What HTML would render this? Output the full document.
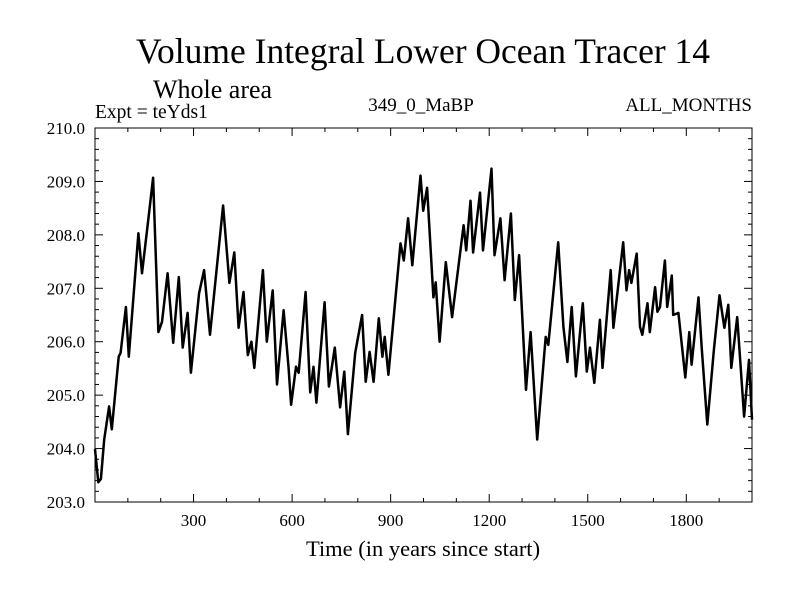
<!DOCTYPE html>
<html><head><meta charset="utf-8"><style>
html,body{margin:0;padding:0;background:#fff;}
svg text{font-family:"Liberation Serif",serif;fill:#000;}
</style></head><body>
<svg id="chart" width="800" height="600" viewBox="0 0 800 600" xmlns="http://www.w3.org/2000/svg">
<text x="423" y="63" font-size="35.5" text-anchor="middle">Volume Integral Lower Ocean Tracer 14</text>
<text x="153" y="98" font-size="26">Whole area</text>
<text x="95" y="118" font-size="19.5">Expt = teYds1</text>
<text x="421" y="111" font-size="19" text-anchor="middle">349_0_MaBP</text>
<text x="752" y="111" font-size="19" text-anchor="end">ALL_MONTHS</text>
<text x="423" y="556" font-size="22.5" text-anchor="middle">Time (in years since start)</text>
<g id="axes"></g>
<path id="series" fill="none" stroke="#000" stroke-width="2.5" stroke-linejoin="round"></path>
<rect x="95" y="128" width="657" height="374" fill="none" stroke="#000" stroke-width="1"></rect>
</svg>
<script>
const years = [0,10,18,28,43,51,72,78,94,103,132,143,163,177,193,204,221,238,255,267,282,292,317,332,350,390,409,424,437,452,465,476,485,511,523,541,554,574,589,597,612,620,641,655,665,674,699,712,730,746,759,770,792,813,824,836,848,864,875,882,893,930,940,953,966,991,999,1011,1030,1037,1049,1068,1087,1122,1130,1143,1151,1172,1181,1207,1216,1234,1247,1266,1278,1291,1312,1326,1346,1372,1380,1410,1426,1438,1451,1464,1485,1497,1507,1520,1537,1545,1570,1578,1608,1618,1626,1633,1649,1659,1666,1682,1689,1705,1712,1720,1735,1742,1756,1760,1776,1797,1809,1816,1837,1847,1864,1884,1901,1916,1928,1937,1955,1976,1991,2000];
const values = [203.99,203.37,203.43,204.17,204.79,204.36,205.72,205.79,206.65,205.72,208.03,207.28,208.32,209.07,206.18,206.37,207.28,205.98,207.21,205.89,206.54,205.42,206.91,207.34,206.13,208.55,207.10,207.67,206.26,206.93,205.75,206.00,205.51,207.34,206.00,206.96,205.20,206.59,205.53,204.82,205.53,205.42,206.93,205.05,205.53,204.86,206.74,205.16,205.89,204.77,205.44,204.27,205.79,206.50,205.25,205.81,205.25,206.44,205.72,206.09,205.38,207.84,207.52,208.31,207.43,209.11,208.45,208.88,206.83,207.11,206.00,207.49,206.46,208.18,207.71,208.64,207.67,208.79,207.71,209.24,207.62,208.31,207.15,208.40,206.78,207.62,205.10,206.18,204.17,206.09,205.94,207.86,206.28,205.62,206.65,205.35,206.72,205.44,205.89,205.23,206.41,205.51,207.34,206.26,207.86,206.96,207.34,207.10,207.65,206.28,206.13,206.72,206.18,207.02,206.56,206.65,207.52,206.65,207.24,206.50,206.54,205.33,206.18,205.57,206.83,205.89,204.45,205.85,206.87,206.26,206.69,205.51,206.46,204.60,205.66,204.54];
const xTickValues = [300,600,900,1200,1500,1800];
const xTickLabels = ["300","600","900","1200","1500","1800"];
const yTickValues = [203,204,205,206,207,208,209,210];
const yTickLabels = ["203.0","204.0","205.0","206.0","207.0","208.0","209.0","210.0"];

const L=95,R=752,T=128,B=502,X0=0,X1=2000,Y0=203,Y1=210;
function xs(v){return L+(v-X0)/(X1-X0)*(R-L);}
function ys(v){return B-(v-Y0)/(Y1-Y0)*(B-T);}
const NS="http://www.w3.org/2000/svg";
const axes=document.getElementById('axes');
function line(x1,y1,x2,y2,name){
  const l=document.createElementNS(NS,'line');
  l.setAttribute('x1',x1);l.setAttribute('y1',y1);l.setAttribute('x2',x2);l.setAttribute('y2',y2);
  l.setAttribute('stroke','#000');l.setAttribute('stroke-width','1');
  
  
  axes.appendChild(l);
}
function text(x,y,s,anchor,name){
  const t=document.createElementNS(NS,'text');
  t.setAttribute('x',x);t.setAttribute('y',y);t.setAttribute('font-size','17');t.setAttribute('text-anchor',anchor);
  t.textContent=s;
  
  
  axes.appendChild(t);
}
for(let v=100;v<X1;v+=100){
  const x=xs(v), major=(v%300===0), h=major?8:4;
  line(x,B,x,B-h,'x-tick');
  line(x,T,x,T+h,'x-tick-top');
}
xTickValues.forEach((v,i)=>text(xs(v),526,xTickLabels[i],'middle','x-tick-label'));
for(let k=1;k<35;k++){
  const v=Y0+k*0.2, y=ys(v), major=(k%5===0), h=major?8:4;
  line(L,y,L+h,y,'y-tick');
  line(R,y,R-h,y,'y-tick-right');
}
yTickValues.forEach((v,i)=>text(85,ys(v)+6,yTickLabels[i],'end','y-tick-label'));
let d='';
years.forEach((yr,i)=>{d+=(i?'L':'M')+xs(yr).toFixed(1)+','+ys(values[i]).toFixed(1);});
document.getElementById('series').setAttribute('d',d);
</script>
</body></html>
